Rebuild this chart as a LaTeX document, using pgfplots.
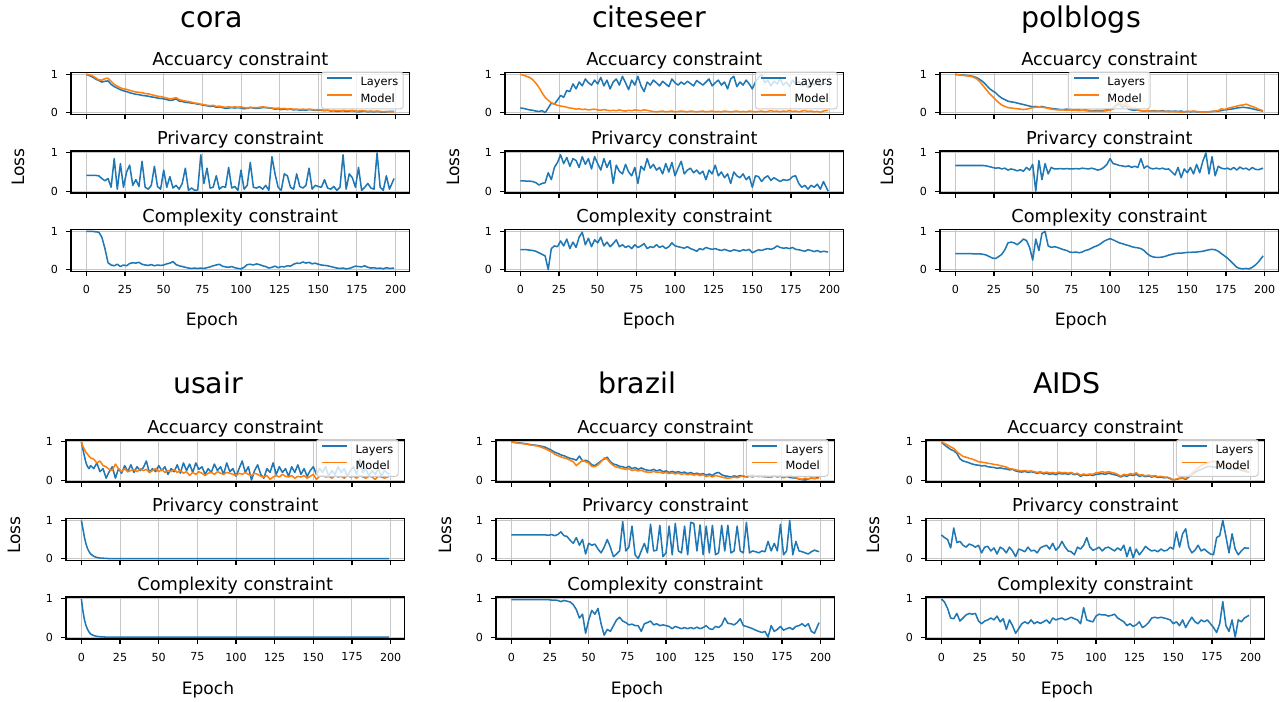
\documentclass[border=0pt]{standalone}
\usepackage{fontspec}
\setmainfont{DejaVu Sans}
\usepackage{pgfplots}
\usepackage{pgfplotstable}
\pgfplotsset{compat=1.18}

\definecolor{layerblue}{HTML}{1F77B4}
\definecolor{modelorange}{HTML}{FF7F0E}

% one pixel of the layout grid
\newcommand*\pxu{0.72pt}

% columns: epoch, accuracy loss (layers), accuracy loss (model), privacy loss, complexity loss
\pgfplotstableread{
e a m p c
0 1.00 1.00 0.41 1.00
2 0.97 0.99 0.41 1.00
4 0.93 0.96 0.41 1.00
6 0.88 0.91 0.41 0.99
8 0.84 0.86 0.40 0.98
10 0.80 0.85 0.33 0.85
12 0.82 0.89 0.27 0.55
14 0.83 0.90 0.33 0.18
16 0.74 0.82 0.10 0.12
18 0.68 0.74 0.85 0.10
20 0.64 0.69 0.05 0.14
22 0.60 0.65 0.72 0.08
24 0.57 0.62 0.10 0.12
26 0.55 0.61 0.50 0.10
28 0.52 0.58 0.68 0.16
30 0.50 0.56 0.15 0.18
32 0.48 0.54 0.30 0.17
34 0.47 0.53 0.12 0.19
36 0.45 0.52 0.78 0.14
38 0.44 0.50 0.10 0.12
40 0.43 0.49 0.05 0.11
42 0.41 0.47 0.15 0.13
44 0.40 0.45 0.65 0.10
46 0.38 0.43 0.12 0.12
48 0.37 0.42 0.05 0.11
50 0.36 0.40 0.55 0.12
52 0.34 0.38 0.10 0.15
54 0.32 0.36 0.38 0.17
56 0.33 0.37 0.08 0.21
58 0.36 0.39 0.15 0.13
60 0.30 0.34 0.05 0.10
62 0.29 0.32 0.20 0.08
64 0.27 0.30 0.60 0.06
66 0.26 0.29 0.02 0.04
68 0.25 0.27 0.08 0.03
70 0.24 0.25 0.02 0.04
72 0.22 0.24 0.03 0.03
74 0.21 0.22 0.95 0.04
76 0.19 0.21 0.20 0.03
78 0.18 0.19 0.60 0.05
80 0.16 0.18 0.08 0.07
82 0.17 0.19 0.10 0.10
84 0.14 0.16 0.40 0.12
86 0.15 0.17 0.05 0.14
88 0.13 0.15 0.12 0.09
90 0.11 0.14 0.10 0.07
92 0.12 0.15 0.62 0.06
94 0.13 0.14 0.08 0.08
96 0.12 0.15 0.12 0.05
98 0.13 0.14 0.02 0.03
100 0.12 0.15 0.55 0.02
102 0.10 0.13 0.05 0.06
104 0.11 0.12 0.15 0.13
106 0.13 0.14 0.75 0.14
108 0.12 0.13 0.10 0.12
110 0.11 0.13 0.08 0.15
112 0.12 0.14 0.12 0.13
114 0.13 0.15 0.05 0.10
116 0.13 0.14 0.15 0.08
118 0.12 0.13 0.02 0.04
120 0.11 0.12 0.90 0.06
122 0.09 0.11 0.45 0.09
124 0.10 0.12 0.10 0.05
126 0.08 0.10 0.02 0.08
128 0.09 0.11 0.45 0.07
130 0.08 0.09 0.40 0.10
132 0.09 0.10 0.10 0.09
134 0.07 0.09 0.05 0.14
136 0.08 0.09 0.45 0.17
138 0.06 0.08 0.12 0.16
140 0.07 0.09 0.08 0.20
142 0.06 0.08 0.15 0.17
144 0.08 0.09 0.60 0.19
146 0.07 0.08 0.05 0.15
148 0.06 0.07 0.15 0.17
150 0.07 0.08 0.12 0.14
152 0.06 0.07 0.10 0.12
154 0.05 0.06 0.30 0.11
156 0.06 0.07 0.08 0.10
158 0.04 0.05 0.05 0.08
160 0.05 0.06 0.12 0.06
162 0.03 0.05 0.02 0.04
164 0.04 0.05 0.10 0.03
166 0.05 0.06 0.95 0.04
168 0.03 0.05 0.05 0.02
170 0.04 0.05 0.45 0.03
172 0.05 0.06 0.35 0.06
174 0.03 0.04 0.10 0.09
176 0.02 0.04 0.62 0.08
178 0.03 0.05 0.02 0.07
180 0.04 0.04 0.10 0.10
182 0.02 0.03 0.20 0.06
184 0.03 0.04 0.08 0.04
186 0.02 0.03 0.05 0.05
188 0.03 0.04 1.00 0.03
190 0.02 0.03 0.10 0.04
192 0.01 0.02 0.02 0.02
194 0.02 0.03 0.40 0.05
196 0.03 0.02 0.05 0.03
199 0.03 0.02 0.33 0.04
}\coradata

\pgfplotstableread{
e a m p c
0 0.12 1.00 0.27 0.52
2 0.11 0.98 0.27 0.52
4 0.09 0.95 0.26 0.52
6 0.07 0.92 0.26 0.51
8 0.06 0.86 0.25 0.50
10 0.04 0.77 0.22 0.48
12 0.03 0.66 0.16 0.44
14 0.05 0.52 0.20 0.40
16 0.00 0.40 0.22 0.36
18 0.12 0.32 0.48 0.00
20 0.25 0.26 0.30 0.55
22 0.22 0.22 0.62 0.62
24 0.33 0.19 0.75 0.60
26 0.45 0.17 0.95 0.75
28 0.40 0.16 0.72 0.62
30 0.58 0.14 0.88 0.80
32 0.55 0.12 0.65 0.55
34 0.75 0.11 0.85 0.72
36 0.62 0.09 0.80 0.58
38 0.80 0.10 0.62 0.85
40 0.70 0.08 0.90 0.98
42 0.88 0.09 0.70 0.65
44 0.78 0.07 0.85 0.82
46 0.72 0.08 0.58 0.60
48 0.85 0.09 0.90 0.78
50 0.75 0.07 0.72 0.70
52 0.92 0.06 0.55 0.85
54 0.70 0.08 0.85 0.62
56 0.85 0.06 0.62 0.72
58 0.62 0.05 0.80 0.60
60 0.80 0.06 0.20 0.68
62 0.88 0.05 0.68 0.78
64 0.72 0.07 0.52 0.60
66 0.95 0.05 0.45 0.65
68 0.78 0.04 0.70 0.58
70 0.60 0.06 0.50 0.62
72 0.85 0.05 0.40 0.55
74 0.72 0.07 0.62 0.65
76 0.95 0.06 0.20 0.58
78 0.70 0.05 0.65 0.62
80 0.55 0.07 0.55 0.68
82 0.80 0.06 0.85 0.55
84 0.72 0.04 0.60 0.60
86 0.85 0.03 0.70 0.58
88 0.78 0.02 0.55 0.65
90 0.70 0.03 0.62 0.58
92 0.82 0.04 0.45 0.62
94 0.75 0.02 0.72 0.55
96 0.68 0.03 0.50 0.60
98 0.88 0.04 0.75 0.70
100 0.78 0.02 0.40 0.62
102 0.72 0.03 0.60 0.60
104 0.80 0.04 0.78 0.58
106 0.74 0.03 0.45 0.56
108 0.82 0.02 0.55 0.60
110 0.76 0.04 0.60 0.55
112 0.70 0.03 0.48 0.52
114 0.84 0.02 0.55 0.48
116 0.78 0.03 0.45 0.55
118 0.72 0.04 0.52 0.52
120 0.80 0.02 0.30 0.58
122 0.88 0.03 0.55 0.55
124 0.70 0.04 0.45 0.53
126 0.78 0.02 0.68 0.55
128 0.85 0.03 0.40 0.52
130 0.72 0.02 0.50 0.50
132 0.80 0.04 0.35 0.53
134 0.62 0.03 0.45 0.50
136 0.88 0.02 0.20 0.48
138 0.95 0.03 0.50 0.52
140 0.68 0.04 0.40 0.50
142 0.80 0.02 0.35 0.48
144 0.72 0.03 0.45 0.52
146 0.85 0.02 0.30 0.50
148 0.75 0.04 0.38 0.53
150 0.62 0.03 0.10 0.44
152 0.80 0.02 0.40 0.48
154 0.92 0.03 0.38 0.52
156 1.00 0.04 0.25 0.50
158 0.78 0.02 0.35 0.53
160 0.85 0.03 0.40 0.55
162 0.70 0.05 0.28 0.53
164 0.82 0.03 0.35 0.56
166 0.75 0.04 0.30 0.62
168 0.88 0.02 0.25 0.58
170 0.72 0.04 0.30 0.56
172 0.80 0.03 0.28 0.57
174 0.68 0.05 0.30 0.55
176 0.85 0.03 0.38 0.58
178 0.75 0.04 0.40 0.53
180 0.82 0.02 0.20 0.52
182 0.70 0.04 0.10 0.50
184 0.78 0.05 0.15 0.48
186 0.65 0.03 0.05 0.52
188 0.80 0.04 0.15 0.50
190 0.72 0.02 0.10 0.47
192 0.85 0.03 0.18 0.50
194 0.70 0.01 0.05 0.46
196 0.78 0.04 0.25 0.48
199 0.74 0.06 0.00 0.46
}\citeseerdata

\pgfplotstableread{
e a m p c
0 1.00 1.00 0.67 0.42
2 0.99 0.99 0.67 0.42
4 0.99 0.98 0.67 0.42
6 0.98 0.97 0.67 0.42
8 0.97 0.96 0.67 0.42
10 0.96 0.95 0.67 0.42
12 0.94 0.92 0.67 0.41
14 0.91 0.88 0.67 0.41
16 0.86 0.80 0.67 0.41
18 0.80 0.70 0.67 0.40
20 0.72 0.60 0.66 0.38
22 0.63 0.50 0.64 0.34
24 0.57 0.42 0.62 0.30
26 0.52 0.34 0.60 0.29
28 0.44 0.26 0.61 0.34
30 0.38 0.20 0.58 0.40
32 0.34 0.16 0.60 0.52
34 0.30 0.13 0.55 0.70
36 0.28 0.12 0.58 0.72
38 0.27 0.11 0.56 0.70
40 0.25 0.10 0.53 0.65
42 0.23 0.09 0.56 0.72
44 0.21 0.08 0.52 0.80
46 0.19 0.09 0.62 0.76
48 0.17 0.11 0.55 0.58
50 0.15 0.13 0.70 0.25
52 0.16 0.14 0.00 0.80
54 0.15 0.15 0.80 0.50
56 0.16 0.14 0.30 0.95
58 0.14 0.13 0.72 1.00
60 0.12 0.11 0.45 0.62
62 0.11 0.09 0.62 0.58
64 0.10 0.08 0.58 0.60
66 0.09 0.07 0.58 0.58
68 0.08 0.07 0.59 0.55
70 0.08 0.07 0.58 0.52
72 0.09 0.06 0.59 0.50
74 0.08 0.07 0.58 0.46
76 0.07 0.06 0.58 0.45
78 0.08 0.06 0.59 0.46
80 0.07 0.05 0.58 0.44
82 0.06 0.06 0.60 0.46
84 0.07 0.05 0.59 0.50
86 0.06 0.04 0.58 0.52
88 0.05 0.04 0.60 0.56
90 0.05 0.03 0.58 0.60
92 0.06 0.04 0.55 0.63
94 0.05 0.03 0.57 0.68
96 0.06 0.04 0.62 0.74
98 0.07 0.05 0.70 0.78
100 0.07 0.06 0.85 0.81
102 0.10 0.12 0.72 0.78
104 0.18 0.22 0.70 0.74
106 0.22 0.26 0.67 0.70
108 0.14 0.20 0.66 0.68
110 0.18 0.25 0.64 0.65
112 0.09 0.18 0.66 0.63
114 0.07 0.10 0.62 0.60
116 0.06 0.12 0.65 0.58
118 0.07 0.06 0.62 0.57
120 0.05 0.05 0.85 0.55
122 0.04 0.04 0.60 0.50
124 0.05 0.05 0.66 0.42
126 0.04 0.04 0.60 0.36
128 0.05 0.04 0.58 0.33
130 0.04 0.03 0.60 0.32
132 0.04 0.04 0.58 0.32
134 0.05 0.03 0.60 0.33
136 0.03 0.03 0.57 0.35
138 0.04 0.02 0.58 0.38
140 0.03 0.03 0.50 0.40
142 0.04 0.02 0.42 0.42
144 0.03 0.02 0.62 0.43
146 0.04 0.01 0.35 0.43
148 0.02 0.02 0.58 0.44
150 0.03 0.03 0.48 0.45
152 0.02 0.03 0.62 0.45
154 0.03 0.04 0.45 0.46
156 0.02 0.03 0.70 0.46
158 0.02 0.02 0.48 0.47
160 0.01 0.01 0.78 0.48
162 0.02 0.02 1.00 0.50
164 0.02 0.02 0.45 0.52
166 0.03 0.03 0.90 0.53
168 0.03 0.04 0.40 0.52
170 0.04 0.05 0.65 0.48
172 0.05 0.10 0.60 0.42
174 0.07 0.08 0.58 0.36
176 0.08 0.11 0.60 0.30
178 0.09 0.13 0.56 0.22
180 0.10 0.15 0.62 0.14
182 0.12 0.17 0.55 0.06
184 0.13 0.19 0.63 0.03
186 0.14 0.20 0.58 0.02
188 0.13 0.22 0.60 0.03
190 0.12 0.19 0.55 0.02
192 0.10 0.16 0.62 0.06
194 0.08 0.13 0.57 0.12
196 0.06 0.09 0.56 0.20
199 0.04 0.05 0.60 0.36
}\polblogsdata

\pgfplotstableread{
e a m p c
0 1.00 1.00 1.00 1.00
1 0.80 0.88 0.78 0.68
2 0.62 0.80 0.55 0.45
3 0.45 0.72 0.38 0.30
4 0.35 0.68 0.26 0.20
5 0.30 0.62 0.18 0.13
6 0.38 0.58 0.12 0.08
8 0.30 0.55 0.06 0.04
10 0.45 0.45 0.03 0.02
12 0.22 0.50 0.015 0.01
14 0.30 0.38 0.01 0.005
16 0.05 0.35 0.005 0
18 0.22 0.28 0 0
20 0.35 0.25 0 0
22 0.05 0.42 0 0
24 0.30 0.30 0 0
26 0.18 0.22 0 0
28 0.38 0.30 0 0
30 0.22 0.22 0 0
32 0.40 0.25 0 0
34 0.20 0.28 0 0
36 0.35 0.22 0 0
38 0.25 0.30 0 0
40 0.32 0.25 0 0
42 0.50 0.28 0 0
44 0.20 0.20 0 0
46 0.30 0.25 0 0
48 0.22 0.30 0 0
50 0.38 0.22 0 0
52 0.25 0.28 0 0
54 0.35 0.20 0 0
56 0.15 0.25 0 0
58 0.30 0.22 0 0
60 0.22 0.28 0 0
62 0.40 0.20 0 0
64 0.18 0.25 0 0
66 0.45 0.18 0 0
68 0.25 0.22 0 0
70 0.42 0.12 0 0
72 0.20 0.20 0 0
74 0.45 0.15 0 0
76 0.28 0.22 0 0
78 0.35 0.18 0 0
80 0.15 0.12 0 0
82 0.30 0.18 0 0
84 0.20 0.20 0 0
86 0.42 0.15 0 0
88 0.25 0.22 0 0
90 0.35 0.18 0 0
92 0.15 0.15 0 0
94 0.45 0.20 0 0
96 0.22 0.18 0 0
98 0.30 0.15 0 0
100 0.10 0.12 0 0
102 0.30 0.18 0 0
104 0.50 0.15 0 0
106 0.20 0.20 0 0
108 0.35 0.15 0 0
110 0.00 0.12 0 0
112 0.25 0.18 0 0
114 0.40 0.15 0 0
116 0.15 0.10 0 0
118 0.05 0.08 0 0
120 0.30 0.12 0 0
122 0.20 0.02 0 0
124 0.45 0.08 0 0
126 0.15 0.12 0 0
128 0.35 0.08 0 0
130 0.20 0.15 0 0
132 0.30 0.10 0 0
134 0.10 0.08 0 0
136 0.35 0.12 0 0
138 0.20 0.05 0 0
140 0.40 0.10 0 0
142 0.15 0.08 0 0
144 0.30 0.12 0 0
146 0.10 0.05 0 0
148 0.25 0.10 0 0
150 0.35 0.15 0 0
152 0.15 0.02 0 0
154 0.30 0.10 0 0
156 0.20 0.12 0 0
158 0.35 0.08 0 0
160 0.10 0.10 0 0
162 0.25 0.05 0 0
164 0.15 0.12 0 0
166 0.35 0.08 0 0
168 0.20 0.10 0 0
170 0.30 0.05 0 0
172 0.10 0.12 0 0
174 0.25 0.08 0 0
176 0.35 0.10 0 0
178 0.15 0.05 0 0
180 0.55 0.12 0 0
182 0.20 0.08 0 0
184 0.30 0.05 0 0
186 0.10 0.10 0 0
188 0.25 0.08 0 0
190 0.15 0.02 0 0
192 0.30 0.10 0 0
194 0.10 0.08 0 0
196 0.25 0.05 0 0
199 0.15 0.10 0 0
}\usairdata

\pgfplotstableread{
e a m p c
0 1.00 1.00 0.62 0.98
2 0.99 0.98 0.62 0.98
4 0.98 0.97 0.62 0.98
6 0.97 0.96 0.62 0.98
8 0.96 0.95 0.62 0.98
10 0.95 0.94 0.62 0.98
12 0.93 0.92 0.62 0.98
14 0.92 0.91 0.62 0.98
16 0.91 0.90 0.62 0.98
18 0.90 0.88 0.62 0.98
20 0.88 0.85 0.62 0.98
22 0.86 0.82 0.62 0.98
24 0.82 0.78 0.61 0.98
26 0.78 0.74 0.63 0.97
28 0.73 0.68 0.60 0.97
30 0.70 0.64 0.63 0.96
32 0.66 0.61 0.70 0.93
34 0.64 0.58 0.60 0.96
36 0.60 0.56 0.58 0.94
38 0.57 0.52 0.48 0.92
40 0.55 0.48 0.40 0.85
42 0.52 0.38 0.55 0.72
44 0.63 0.45 0.35 0.50
46 0.50 0.52 0.50 0.60
48 0.52 0.48 0.12 0.10
50 0.48 0.45 0.40 0.45
52 0.40 0.36 0.35 0.70
54 0.38 0.35 0.38 0.60
56 0.44 0.40 0.25 0.75
58 0.50 0.48 0.15 0.35
60 0.55 0.58 0.30 0.05
62 0.60 0.55 0.50 0.20
64 0.48 0.45 0.30 0.15
66 0.42 0.38 0.05 0.30
68 0.40 0.34 0.12 0.45
70 0.36 0.32 0.20 0.52
72 0.35 0.30 0.97 0.42
74 0.32 0.28 0.20 0.38
76 0.36 0.30 0.30 0.32
78 0.30 0.25 0.85 0.34
80 0.33 0.27 0.10 0.30
82 0.28 0.24 0.00 0.30
84 0.32 0.26 0.20 0.15
86 0.28 0.22 0.40 0.35
88 0.26 0.21 0.15 0.38
90 0.25 0.20 0.90 0.42
92 0.28 0.23 0.20 0.32
94 0.24 0.20 0.22 0.35
96 0.27 0.21 0.87 0.30
98 0.22 0.18 0.05 0.32
100 0.24 0.20 0.15 0.30
102 0.20 0.17 0.85 0.28
104 0.23 0.19 0.10 0.22
106 0.20 0.16 0.92 0.28
108 0.22 0.18 0.20 0.25
110 0.19 0.15 0.15 0.22
112 0.21 0.17 0.85 0.25
114 0.17 0.14 0.10 0.22
116 0.20 0.16 0.95 0.25
118 0.16 0.13 0.92 0.22
120 0.18 0.15 0.20 0.26
122 0.15 0.12 0.88 0.22
124 0.17 0.14 0.10 0.25
126 0.13 0.09 0.85 0.30
128 0.16 0.12 0.15 0.22
130 0.12 0.08 0.87 0.20
132 0.18 0.12 0.10 0.28
134 0.20 0.10 0.15 0.25
136 0.14 0.08 0.87 0.32
138 0.11 0.06 0.20 0.50
140 0.10 0.05 0.87 0.36
142 0.08 0.06 0.15 0.35
144 0.11 0.08 0.20 0.32
146 0.09 0.06 0.85 0.38
148 0.12 0.09 0.20 0.48
150 0.10 0.12 0.15 0.30
152 0.08 0.07 0.95 0.28
154 0.11 0.10 0.15 0.25
156 0.13 0.08 0.20 0.22
158 0.10 0.11 0.18 0.18
160 0.12 0.09 0.15 0.15
162 0.09 0.12 0.20 0.12
164 0.11 0.08 0.18 0.15
166 0.08 0.10 0.45 0.00
168 0.10 0.07 0.20 0.30
170 0.12 0.11 0.40 0.15
172 0.09 0.08 0.20 0.20
174 0.11 0.10 0.90 0.28
176 0.08 0.06 0.10 0.18
178 0.10 0.09 0.20 0.22
180 0.07 0.12 1.00 0.25
182 0.06 0.08 0.10 0.20
184 0.05 0.06 0.45 0.28
186 0.03 0.04 0.20 0.30
188 0.01 0.02 0.18 0.35
190 0.00 0.05 0.15 0.28
192 0.03 0.03 0.12 0.35
194 0.05 0.06 0.18 0.15
196 0.04 0.04 0.22 0.10
199 0.08 0.05 0.18 0.38
}\brazildata

\pgfplotstableread{
e a m p c
0 1.00 1.00 0.62 1.00
2 0.92 0.96 0.55 0.92
4 0.86 0.92 0.50 0.75
6 0.80 0.87 0.28 0.50
8 0.77 0.83 0.80 0.48
10 0.70 0.74 0.42 0.62
12 0.56 0.68 0.45 0.42
14 0.50 0.62 0.35 0.50
16 0.48 0.60 0.30 0.58
18 0.45 0.57 0.38 0.62
20 0.42 0.55 0.35 0.60
22 0.40 0.52 0.30 0.62
24 0.39 0.48 0.35 0.42
26 0.37 0.47 0.15 0.35
28 0.38 0.46 0.30 0.42
30 0.35 0.44 0.32 0.45
32 0.34 0.43 0.20 0.50
34 0.33 0.41 0.28 0.45
36 0.31 0.40 0.12 0.55
38 0.32 0.38 0.30 0.40
40 0.30 0.36 0.25 0.48
42 0.29 0.34 0.15 0.20
44 0.27 0.30 0.30 0.45
46 0.28 0.29 0.20 0.30
48 0.24 0.27 0.05 0.10
50 0.22 0.25 0.25 0.22
52 0.21 0.24 0.22 0.35
54 0.23 0.25 0.18 0.40
56 0.20 0.23 0.30 0.35
58 0.22 0.24 0.20 0.45
60 0.20 0.22 0.22 0.35
62 0.18 0.20 0.15 0.40
64 0.20 0.22 0.28 0.36
66 0.16 0.19 0.32 0.40
68 0.18 0.21 0.35 0.45
70 0.15 0.19 0.25 0.36
72 0.17 0.20 0.40 0.50
74 0.14 0.18 0.22 0.45
76 0.18 0.21 0.30 0.48
78 0.16 0.19 0.45 0.50
80 0.17 0.20 0.30 0.45
82 0.15 0.18 0.20 0.48
84 0.18 0.20 0.18 0.52
86 0.14 0.16 0.10 0.48
88 0.16 0.18 0.30 0.45
90 0.10 0.13 0.25 0.35
92 0.14 0.16 0.35 0.77
94 0.12 0.14 0.55 0.45
96 0.14 0.16 0.30 0.42
98 0.12 0.15 0.22 0.40
100 0.15 0.19 0.25 0.55
102 0.16 0.20 0.30 0.60
104 0.17 0.22 0.20 0.58
106 0.15 0.20 0.28 0.58
108 0.18 0.22 0.30 0.55
110 0.16 0.20 0.25 0.57
112 0.14 0.18 0.20 0.60
114 0.12 0.15 0.28 0.50
116 0.08 0.10 0.22 0.45
118 0.12 0.15 0.35 0.40
120 0.10 0.13 0.05 0.30
122 0.14 0.17 0.30 0.35
124 0.12 0.15 0.02 0.28
126 0.15 0.19 0.25 0.32
128 0.10 0.13 0.10 0.40
130 0.12 0.14 0.20 0.25
132 0.09 0.11 0.32 0.30
134 0.11 0.13 0.25 0.38
136 0.08 0.10 0.20 0.50
138 0.10 0.12 0.22 0.52
140 0.07 0.09 0.18 0.50
142 0.08 0.10 0.25 0.52
144 0.06 0.08 0.20 0.50
146 0.07 0.08 0.22 0.48
148 0.04 0.05 0.30 0.45
150 0.00 0.00 0.25 0.35
152 0.02 0.03 0.70 0.40
154 0.04 0.05 0.30 0.30
156 0.05 0.06 0.65 0.45
158 0.02 0.04 0.78 0.25
160 0.08 0.10 0.30 0.40
162 0.15 0.18 0.15 0.52
164 0.20 0.25 0.22 0.40
166 0.25 0.32 0.35 0.35
168 0.28 0.38 0.20 0.45
170 0.32 0.42 0.25 0.40
172 0.35 0.45 0.18 0.45
174 0.36 0.48 0.12 0.35
176 0.33 0.50 0.10 0.25
178 0.35 0.46 0.55 0.12
180 0.34 0.42 0.60 0.35
182 0.30 0.40 1.00 0.93
184 0.32 0.38 0.58 0.30
186 0.28 0.35 0.15 0.15
188 0.30 0.36 0.65 0.45
190 0.27 0.33 0.25 0.00
192 0.30 0.34 0.10 0.45
194 0.25 0.30 0.20 0.40
196 0.24 0.28 0.28 0.50
199 0.20 0.22 0.27 0.57
}\aidsdata

\pgfplotsset{
  lossaxis/.style={
    scale only axis, width=243.7pt, height=30.24pt,
    anchor=north west,
    xmin=-9.95, xmax=208.95, ymin=-0.05, ymax=1.05,
    xtick={0,25,...,200}, ytick={0,1},
    grid=major, grid style={line width=0.7pt, color=black!22},
    axis line style={line width=0.8pt, black},
    tick style={line width=0.8pt, black},
    tick align=outside, major tick length=3.5pt, tick pos=left,
    tick label style={font=\fontsize{8}{9}\selectfont},
    xticklabel style={yshift=-2.9pt},
    yticklabel style={xshift=-2.3pt},
    /pgf/number format/assume math mode=true,
    every axis title/.style={font=\fontsize{12.8}{15}\selectfont,
      at={(0.5,1)}, anchor=base, yshift=5pt},
    every axis plot/.append style={line width=1.1pt, line join=round, mark=none},
    legend image code/.code={\draw[##1, line width=1.1pt] (0pt,2.8pt) -- (18pt,2.8pt);},
    legend cell align=left,
    legend style={draw=black!20, line width=0.7pt, rounded corners=2pt,
      fill=white, fill opacity=0.8, draw opacity=1, text opacity=1,
      font=\fontsize{8.2}{9}\selectfont,
      inner xsep=3.6pt, inner ysep=1.2pt, column sep=5.5pt, row sep=0pt,
      nodes={inner sep=0pt, text height=8.5pt, text depth=3.5pt}},
  },
}

% three stacked loss panels for one dataset
% #1 table, #2 left edge (px), #3 top edge of first axis (px), #4 legend position, #5 legend anchor
\newcommand{\losspanel}[5]{%
  \begin{axis}[lossaxis, at={(#2*\pxu,-#3*\pxu)}, title={Accuarcy constraint},
      xticklabels={}, legend style={at={#4}, anchor=#5}]
    \addplot[layerblue] table[x=e, y=a] {#1};
    \addlegendentry{Layers}
    \addplot[modelorange] table[x=e, y=m] {#1};
    \addlegendentry{Model}
  \end{axis}
  \begin{axis}[lossaxis, at={(#2*\pxu,-#3*\pxu-78.5*\pxu)}, title={Privarcy constraint}, xticklabels={}]
    \addplot[layerblue] table[x=e, y=p] {#1};
  \end{axis}
  \begin{axis}[lossaxis, at={(#2*\pxu,-#3*\pxu-157*\pxu)}, title={Complexity constraint}]
    \addplot[layerblue] table[x=e, y=c] {#1};
  \end{axis}
}

\begin{document}
\begin{tikzpicture}
  \useasboundingbox (0,0) rectangle (1284*\pxu,-702*\pxu);

  \losspanel{\coradata}{71}{72.5}{(0.983,1.02)}{north east}
  \losspanel{\citeseerdata}{505}{72.5}{(0.983,1.02)}{north east}
  \losspanel{\polblogsdata}{940}{72.5}{(0.5,1.02)}{north}
  \losspanel{\usairdata}{66}{440}{(0.983,1.02)}{north east}
  \losspanel{\brazildata}{496}{440}{(0.983,1.02)}{north east}
  \losspanel{\aidsdata}{926}{440}{(0.983,1.02)}{north east}

  % dataset names
  \begin{scope}[every node/.style={font=\fontsize{20.5}{24}\selectfont, anchor=base}]
    \node at (212*\pxu,-27.5*\pxu) {cora};
    \node at (649*\pxu,-27.5*\pxu) {citeseer};
    \node at (1081*\pxu,-27.5*\pxu) {polblogs};
    \node at (208*\pxu,-394*\pxu) {usair};
    \node at (637*\pxu,-394*\pxu) {brazil};
    \node at (1067*\pxu,-394*\pxu) {AIDS};
  \end{scope}

  % shared axis labels
  \begin{scope}[every node/.style={font=\fontsize{12.3}{15}\selectfont}]
    \node[anchor=base] at (212*\pxu,-326*\pxu) {Epoch};
    \node[anchor=base] at (649*\pxu,-326*\pxu) {Epoch};
    \node[anchor=base] at (1081*\pxu,-326*\pxu) {Epoch};
    \node[anchor=base] at (208*\pxu,-694*\pxu) {Epoch};
    \node[anchor=base] at (637*\pxu,-694*\pxu) {Epoch};
    \node[anchor=base] at (1067*\pxu,-694*\pxu) {Epoch};
    \node[rotate=90] at (18*\pxu,-167*\pxu) {Loss};
    \node[rotate=90] at (453*\pxu,-167*\pxu) {Loss};
    \node[rotate=90] at (887*\pxu,-167*\pxu) {Loss};
    \node[rotate=90] at (14*\pxu,-535*\pxu) {Loss};
    \node[rotate=90] at (445*\pxu,-535*\pxu) {Loss};
    \node[rotate=90] at (873*\pxu,-535*\pxu) {Loss};
  \end{scope}
\end{tikzpicture}
\end{document}
